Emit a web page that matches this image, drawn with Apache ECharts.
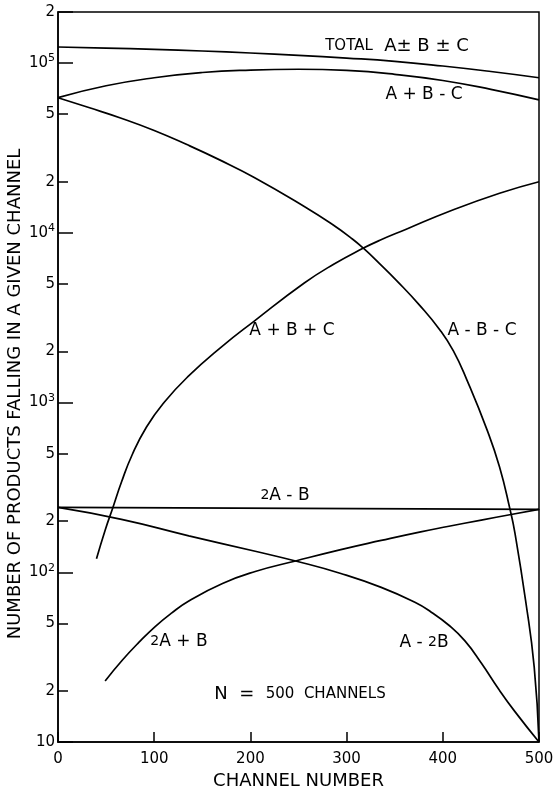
<!DOCTYPE html>
<html>
<head>
<meta charset="utf-8">
<script src="https://cdn.jsdelivr.net/npm/echarts@6/dist/echarts.min.js"></script>
<style>
  html, body { margin: 0; padding: 0; background: #fff; }
  #chart { width: 553px; height: 790px; }
</style>
</head>
<body>
<div id="chart"></div>
<script>
// ---- axis ticks ----
const channelTicks = [0, 100, 200, 300, 400, 500];
const countTicks = [10, 20, 50, 100, 200, 500, 1000, 2000, 5000, 10000, 20000, 50000, 100000, 200000];

// ---- curves: channel number -> number of products in that channel ----
const totalCh  = [0, 50, 100, 150, 200, 250, 300, 350, 400, 450, 500];
const totalVal = [124400, 122600, 120400, 117800, 114700, 111100, 107100, 102400, 96100, 89200, 82000];

const abmcCh  = [0, 50, 100, 150, 200, 250, 300, 350, 400, 450, 500];
const abmcVal = [62600, 73500, 82000, 88000, 91000, 92000, 90500, 85900, 79000, 70000, 60700];

const ambmcCh  = [0, 32, 65, 100, 134, 168, 204, 256, 285, 306, 318, 334, 352, 376, 397, 411, 425, 446, 459, 470, 475, 486, 495, 500];
const ambmcVal = [62500, 54700, 47500, 40100, 33100, 26900, 21200, 14300, 11230, 9200, 8060, 6610, 5230, 3740, 2680, 2015, 1360, 690, 417, 233, 170, 68.6, 27.7, 10];

const abcCh  = [40, 49, 57, 66, 77, 92, 110, 135, 170, 204, 256, 287, 317, 334, 362, 407, 459, 500];
const abcVal = [120, 177, 240, 340, 491, 718, 998, 1420, 2130, 3020, 5060, 6550, 8100, 9010, 10500, 13400, 17100, 20000];

const twoAmBCh  = [0, 500];
const twoAmBVal = [241, 235];

const am2bCh  = [0, 66, 136, 205, 247, 294, 336, 371, 388, 406, 423, 440, 458, 475, 500];
const am2bVal = [241, 205, 164, 133, 116.5, 98.4, 81.5, 66.5, 58.2, 48.9, 39.4, 29.2, 20.5, 15.1, 10];

const twoApBCh  = [49, 67, 84, 101, 118, 136, 171, 205, 247, 294, 336, 377, 405, 440, 471, 500];
const twoApBVal = [22.9, 30.4, 38.6, 47.9, 57.5, 67.7, 85.9, 101, 116.6, 136, 154, 173, 186, 203, 219, 235];

const FONT = 'DejaVu Sans';
const INK = '#000';

const pairs = (xs, ys) => xs.map((x, i) => [x, ys[i]]);
const curve = (name, xs, ys) => ({
  name,
  type: 'line',
  xAxisIndex: 0,
  yAxisIndex: 0,
  data: pairs(xs, ys),
  symbol: 'none',
  smooth: 0.5,
  silent: true,
  lineStyle: { color: INK, width: 1.7 },
  itemStyle: { color: INK }
});

const gridBox = { left: 58, right: 14, top: 12, bottom: 48, outerBoundsMode: 'none', containLabel: false };
const logMin = Math.log10(countTicks[0]);
const logMax = Math.log10(countTicks[countTicks.length - 1]);
const minorTicks = countTicks.filter(v => Math.round(v / Math.pow(10, Math.floor(Math.log10(v) + 1e-9))) !== 1);

function countLabel(v) {
  const exp = Math.floor(v + 1e-9);
  const lead = Math.round(Math.pow(10, v) / Math.pow(10, exp));
  if (lead !== 1) return String(lead);
  if (exp === 1) return '10';
  return '{b|10}{s|' + exp + '}';
}

const chart = echarts.init(document.getElementById('chart'), null, { renderer: 'canvas' });

// the small "2" in the curve names
const smallTwo = { n: { fontFamily: FONT, fontSize: 14, fill: INK, verticalAlign: 'middle', padding: [0, 0, 1, 0] } };

chart.setOption({
  animation: false,
  backgroundColor: '#fff',
  textStyle: { fontFamily: FONT, color: INK },
  grid: [
    Object.assign({ show: true, borderColor: INK, borderWidth: 1.5, backgroundColor: 'transparent' }, gridBox),
    Object.assign({ show: false }, gridBox)
  ],
  xAxis: [
    {
      gridIndex: 0,
      type: 'value',
      min: channelTicks[0],
      max: channelTicks[channelTicks.length - 1],
      interval: 100,
      name: 'CHANNEL NUMBER',
      nameLocation: 'middle',
      nameGap: 29,
      nameTextStyle: { fontFamily: FONT, fontSize: 18, color: INK },
      axisLine: { lineStyle: { color: INK, width: 1.5 } },
      axisTick: { inside: true, length: 10, lineStyle: { color: INK, width: 1.5 } },
      axisLabel: { margin: 10, fontFamily: FONT, fontSize: 15, color: INK },
      splitLine: { show: false }
    },
    {
      gridIndex: 1,
      type: 'value',
      min: 0,
      max: 500,
      show: false
    }
  ],
  yAxis: [
    {
      // data axis: logarithmic, with the long decade ticks
      gridIndex: 0,
      type: 'log',
      logBase: 10,
      min: countTicks[0],
      max: countTicks[countTicks.length - 1],
      axisLine: { show: true, lineStyle: { color: INK, width: 1.5 } },
      axisTick: { show: true, inside: true, length: 15, lineStyle: { color: INK, width: 1.5 } },
      axisLabel: { show: false },
      splitLine: { show: false }
    },
    {
      // same span in log10 units: short 2/5 ticks and all tick labels
      gridIndex: 1,
      type: 'value',
      min: logMin,
      max: logMax,
      axisLine: { show: false },
      axisTick: {
        show: true, inside: true, length: 10,
        customValues: minorTicks.map(v => Math.log10(v)),
        lineStyle: { color: INK, width: 1.5 }
      },
      axisLabel: {
        show: true,
        margin: 3,
        customValues: countTicks.map(v => Math.log10(v)),
        formatter: countLabel,
        fontFamily: FONT,
        fontSize: 15,
        color: INK,
        rich: {
          b: { fontFamily: FONT, fontSize: 15, lineHeight: 20, color: INK },
          s: { fontFamily: FONT, fontSize: 11, lineHeight: 10, verticalAlign: 'top', color: INK }
        }
      },
      splitLine: { show: false }
    }
  ],
  series: [
    curve('TOTAL A±B±C', totalCh, totalVal),
    curve('A+B-C', abmcCh, abmcVal),
    curve('A-B-C', ambmcCh, ambmcVal),
    curve('A+B+C', abcCh, abcVal),
    curve('2A-B', twoAmBCh, twoAmBVal),
    curve('A-2B', am2bCh, am2bVal),
    curve('2A+B', twoApBCh, twoApBVal)
  ],
  graphic: [
    {
      type: 'text', x: 15, y: 394, rotation: Math.PI / 2,
      style: {
        text: 'NUMBER OF PRODUCTS FALLING IN A GIVEN CHANNEL',
        fontFamily: FONT, fontSize: 18, fill: INK, align: 'center', verticalAlign: 'middle'
      }
    },
    {
      type: 'text', x: 397, y: 46,
      style: {
        text: '{s|TOTAL}  A± B ± C',
        fontFamily: FONT, fontSize: 18, fill: INK, align: 'center', verticalAlign: 'middle',
        rich: { s: { fontFamily: FONT, fontSize: 15, fill: INK } }
      }
    },
    {
      type: 'text', x: 424, y: 95,
      style: { text: 'A + B - C', fontFamily: FONT, fontSize: 17, fill: INK, align: 'center', verticalAlign: 'middle' }
    },
    {
      type: 'text', x: 292, y: 331,
      style: { text: 'A + B + C', fontFamily: FONT, fontSize: 17, fill: INK, align: 'center', verticalAlign: 'middle' }
    },
    {
      type: 'text', x: 482, y: 331,
      style: { text: 'A - B - C', fontFamily: FONT, fontSize: 17, fill: INK, align: 'center', verticalAlign: 'middle' }
    },
    {
      type: 'text', x: 285, y: 496,
      style: {
        text: '{n|2}A - B', fontFamily: FONT, fontSize: 17, fill: INK, align: 'center', verticalAlign: 'middle',
        rich: smallTwo
      }
    },
    {
      type: 'text', x: 179, y: 642,
      style: {
        text: '{n|2}A + B', fontFamily: FONT, fontSize: 17, fill: INK, align: 'center', verticalAlign: 'middle',
        rich: smallTwo
      }
    },
    {
      type: 'text', x: 424, y: 643,
      style: {
        text: 'A - {n|2}B', fontFamily: FONT, fontSize: 17, fill: INK, align: 'center', verticalAlign: 'middle',
        rich: smallTwo
      }
    },
    {
      type: 'text', x: 300, y: 694,
      style: {
        text: 'N  =  {s|500  CHANNELS}', fontFamily: FONT, fontSize: 18, fill: INK, align: 'center', verticalAlign: 'middle',
        rich: { s: { fontFamily: FONT, fontSize: 15, fill: INK } }
      }
    }
  ]
});
</script>
</body>
</html>
